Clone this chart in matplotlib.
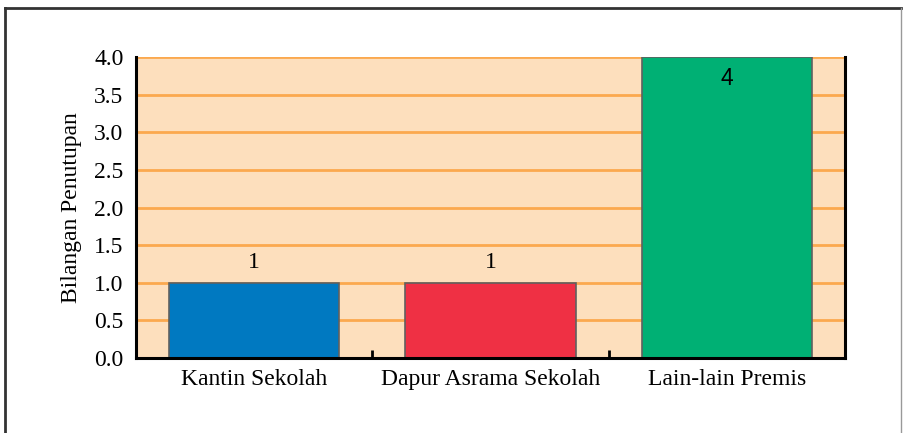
import numpy as np
import matplotlib.pyplot as plt
from matplotlib.lines import Line2D

categories = ["Kantin Sekolah", "Dapur Asrama Sekolah", "Lain-lain Premis"]
values = [1, 1, 4]
bar_colors = ["#0079C1", "#EF3044", "#00B074"]
yticks = [0.0, 0.5, 1.0, 1.5, 2.0, 2.5, 3.0, 3.5, 4.0]

serif = "Liberation Serif"
fs = 17

fig = plt.figure(figsize=(9.04, 4.33), dpi=100)
ax = fig.add_axes([136/904, 1-358/433, (845-136)/904, (358-57)/433])

x = np.arange(len(categories))
ax.set_facecolor("#FDDFBD")
ax.bar(x, values, width=0.72, color=bar_colors, edgecolor="#606060", linewidth=1.2, zorder=3)

ax.set_xlim(-0.5, len(categories)-0.5)
ax.set_ylim(0, 4)
ax.set_yticks(yticks)
ax.set_yticklabels([f"{v:.1f}" for v in yticks], fontfamily=serif, fontsize=fs)
ax.set_xticks(x)
ax.set_xticklabels(categories, fontfamily=serif, fontsize=fs)
ax.set_xticks(x[:-1] + 0.5, minor=True)
ax.tick_params(axis="y", length=0, pad=9)
ax.tick_params(axis="x", which="major", length=0, pad=8)
ax.tick_params(axis="x", which="minor", direction="in", length=6, width=2, color="black")

ax.yaxis.grid(True, color="#FBA94F", linewidth=2, zorder=1)
ax.set_axisbelow(True)
for s in ["left", "right", "bottom"]:
    ax.spines[s].set_linewidth(2.2)
    ax.spines[s].set_color("black")
    ax.spines[s].set_zorder(4)
ax.spines["top"].set_visible(False)

ax.set_ylabel("Bilangan Penutupan", fontfamily=serif, fontsize=fs, labelpad=9)

# value labels
for xi, v in zip(x, values):
    if v >= 4:
        ax.annotate(str(v), (xi, v), xytext=(0, -7), textcoords="offset points",
                    ha="center", va="top", fontfamily="Liberation Sans", fontsize=16.5, zorder=5)
    else:
        ax.annotate(str(v), (xi, v), xytext=(0, 7), textcoords="offset points",
                    ha="center", va="bottom", fontfamily=serif, fontsize=fs, zorder=5)

# outer frame
W, H = 904, 433
fig.add_artist(Line2D([5/W, 5/W], [1-8/H, 0], transform=fig.transFigure, color="#333333", linewidth=2))
fig.add_artist(Line2D([5/W, 901/W], [1-8/H, 1-8/H], transform=fig.transFigure, color="#333333", linewidth=2))
fig.add_artist(Line2D([901/W, 901/W], [1-8/H, 0], transform=fig.transFigure, color="#999999", linewidth=1))

fig.savefig("out.png", dpi=100)
